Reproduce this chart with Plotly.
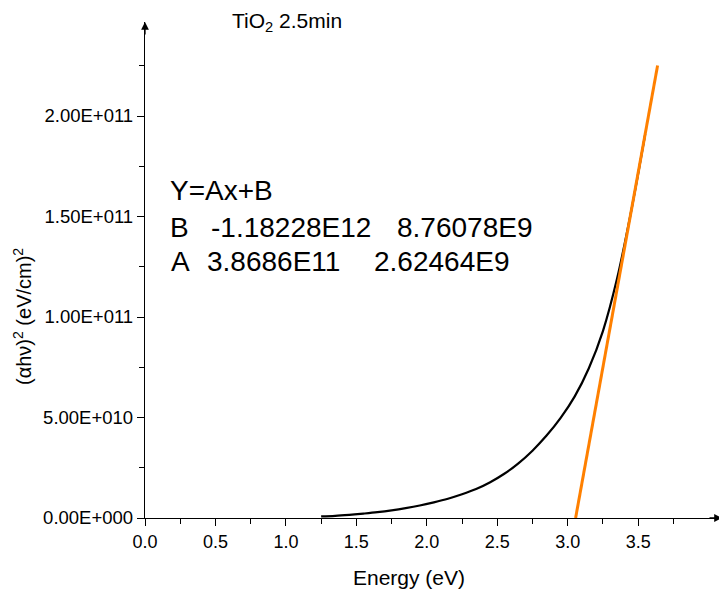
import plotly.graph_objects as go

# Tauc plot data
energy_ev = [1.25, 1.35, 1.45, 1.55, 1.65, 1.75, 1.85, 1.95, 2.05, 2.15, 2.25, 2.35,
             2.45, 2.55, 2.65, 2.75, 2.85, 2.95, 3.05, 3.15, 3.25, 3.35, 3.45, 3.55]
ahv_sq = [0.08e10, 0.11e10, 0.16e10, 0.22e10, 0.29e10, 0.38e10, 0.49e10, 0.62e10, 0.78e10,
          0.96e10, 1.18e10, 1.44e10, 1.78e10, 2.20e10, 2.72e10, 3.35e10, 4.10e10, 4.98e10,
          6.05e10, 7.45e10, 9.30e10, 11.9e10, 15.25e10, 19.1e10]

# Linear fit Y = A x + B
fit_A = 3.8686e11
fit_B = -1.18228e12
fit_x = [3.0561, 3.638]
fit_y = [fit_A * x + fit_B for x in fit_x]

x_tickvals = [0.0, 0.5, 1.0, 1.5, 2.0, 2.5, 3.0, 3.5]
x_ticktext = ["0.0", "0.5", "1.0", "1.5", "2.0", "2.5", "3.0", "3.5"]
x_minor = [0.25, 0.75, 1.25, 1.75, 2.25, 2.75, 3.25, 3.75]
y_tickvals = [0, 5e10, 1e11, 1.5e11, 2e11]
y_ticktext = ["0.00E+000", "5.00E+010", "1.00E+011", "1.50E+011", "2.00E+011"]
y_minor = [2.5e10, 7.5e10, 1.25e11, 1.75e11, 2.25e11]

FONT = "Arial, 'Liberation Sans', sans-serif"
X_MAX = 577 / 140.9
Y_MAX = 496 / 100.5 * 5e10
OFF = 8  # page body margin

fig = go.Figure()
fig.add_trace(go.Scatter(x=energy_ev, y=ahv_sq, mode="lines",
                         line=dict(color="black", width=2.2, shape="spline", smoothing=1.0),
                         showlegend=False, hoverinfo="skip"))
fig.add_trace(go.Scatter(x=fit_x, y=fit_y, mode="lines",
                         line=dict(color="#FF8000", width=3),
                         showlegend=False, hoverinfo="skip"))

fig.update_layout(
    width=727 - OFF, height=590 - OFF,
    margin=dict(l=145 - OFF, r=5, t=22 - OFF, b=72),
    plot_bgcolor="white", paper_bgcolor="white",
    font=dict(family=FONT, color="black"),
    xaxis=dict(range=[0, X_MAX], showgrid=False, zeroline=False,
               showline=True, linecolor="black", linewidth=1.3,
               tickmode="array", tickvals=x_tickvals, ticktext=x_ticktext,
               ticks="outside", ticklen=7, tickwidth=1.3, tickcolor="black",
               tickfont=dict(size=18, family=FONT),
               minor=dict(tickvals=x_minor, ticks="outside", ticklen=5,
                          tickwidth=1.3, tickcolor="black")),
    yaxis=dict(range=[0, Y_MAX], showgrid=False, zeroline=False,
               showline=True, linecolor="black", linewidth=1.3,
               tickmode="array", tickvals=y_tickvals, ticktext=y_ticktext,
               ticks="outside", ticklen=7, tickwidth=1.3, tickcolor="black",
               tickfont=dict(size=18.5, family=FONT),
               minor=dict(tickvals=y_minor, ticks="outside", ticklen=5,
                          tickwidth=1.3, tickcolor="black")),
)

def px2x(px):
    return (px - 145) / 140.9

def py2y(py):
    return (518 - py) / 100.5 * 5e10

ann = []
# axis arrows
ann.append(dict(x=X_MAX, y=0, xref="x", yref="y", text="", showarrow=True,
                ax=-14, ay=0, arrowhead=2, arrowsize=1.2, arrowwidth=1.3,
                arrowcolor="black", standoff=0))
ann.append(dict(x=0, y=Y_MAX, xref="x", yref="y", text="", showarrow=True,
                ax=0, ay=14, arrowhead=2, arrowsize=1.2, arrowwidth=1.3,
                arrowcolor="black", standoff=0))
# title
ann.append(dict(x=px2x(230), y=1.0, xref="x", yref="paper", xanchor="left", yanchor="middle",
                text="TiO<sub>2</sub> 2.5min", showarrow=False, font=dict(size=21, family=FONT)))
# axis titles
ann.append(dict(x=1.875, y=(518 - 577) / 496, xref="x", yref="paper", xanchor="center",
                yanchor="middle", text="Energy (eV)", showarrow=False,
                font=dict(size=21, family=FONT)))
ann.append(dict(x=(22 - 145) / 577, y=(518 - 317) / 496, xref="paper", yref="paper",
                xanchor="center", yanchor="middle", textangle=-90,
                text="(\u03b1h\u03bd)<sup>2</sup> (eV/cm)<sup>2</sup>", showarrow=False,
                font=dict(size=20, family=FONT)))
# fit results
fit_lines = [
    (168, 190, "Y=Ax+B"),
    (168, 227, "B"), (209, 227, "-1.18228E12"), (395, 227, "8.76078E9"),
    (169, 261, "A"), (205, 261, "3.8686E11"), (372, 261, "2.62464E9"),
]
for px, py, t in fit_lines:
    ann.append(dict(x=px2x(px), y=py2y(py), xref="x", yref="y", xanchor="left", yanchor="middle",
                    text=t, showarrow=False, font=dict(size=28, family=FONT)))

fig.update_layout(annotations=ann)
fig.write_html("out.html")
